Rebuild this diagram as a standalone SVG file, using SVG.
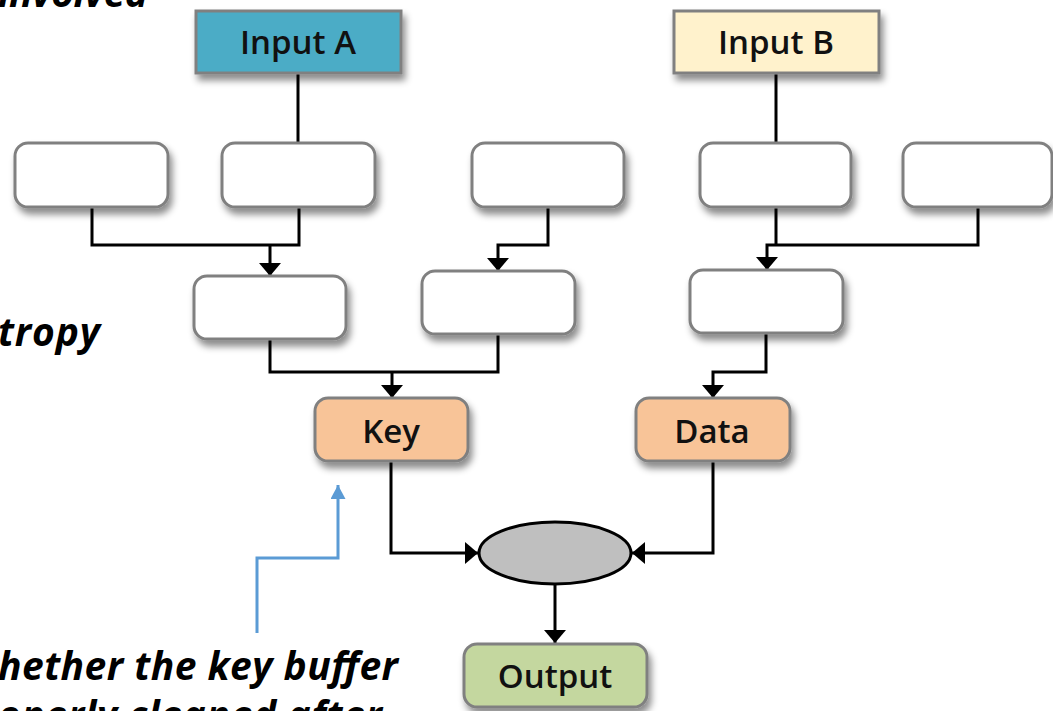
<svg xmlns="http://www.w3.org/2000/svg" width="1053" height="711" viewBox="0 0 1053 711">
<defs>
<filter id="sh" x="-20%" y="-20%" width="150%" height="170%">
<feDropShadow dx="3" dy="6" stdDeviation="3.5" flood-color="#000" flood-opacity="0.45"/>
</filter>
<marker id="ah" markerUnits="userSpaceOnUse" markerWidth="13" markerHeight="22" viewBox="0 0 13 22" refX="13" refY="11" orient="auto">
<path d="M0,0 L13,11 L0,22 z" fill="#000"/>
</marker>
<marker id="ahb" markerUnits="userSpaceOnUse" markerWidth="14" markerHeight="15" viewBox="0 0 14 15" refX="14" refY="7.5" orient="auto">
<path d="M0,0 L14,7.5 L0,15 z" fill="#5B9BD5"/>
</marker>
</defs>
<style>
.box{fill:#fff;stroke:#808080;stroke-width:3;filter:url(#sh)}
.lbl{font-family:"Open Sans","Liberation Sans",sans-serif;font-weight:600;font-size:33px;fill:#111;text-anchor:middle}
.note{font-family:"Open Sans","Liberation Sans",sans-serif;font-weight:700;font-style:italic;font-size:39px;fill:#000}
.c{fill:none;stroke:#000;stroke-width:3}
.ca{fill:none;stroke:#000;stroke-width:3;marker-end:url(#ah)}
</style>
<g id="notes">
<text class="note" x="-2" y="7" textLength="150" lengthAdjust="spacing">involved</text>
<text class="note" x="-2" y="346" textLength="102" lengthAdjust="spacing">tropy</text>
<text class="note" x="-2" y="680" textLength="400" lengthAdjust="spacing">hether the key buffer</text>
<text class="note" x="-2" y="729" textLength="384" lengthAdjust="spacing">operly cleaned after</text>
</g>
<g id="connectors">
<path class="c" d="M298,73 V143"/>
<path class="c" d="M776,73 V143"/>
<path class="c" d="M92,207 V245 H299 V207"/>
<path class="ca" d="M270,245 V276"/>
<path class="ca" d="M548,207 V245 H498 V271"/>
<path class="c" d="M776,207 V245"/>
<path class="ca" d="M978,207 V245 H767 V270"/>
<path class="c" d="M270,339 V372 H498 V334"/>
<path class="ca" d="M392,372 V398"/>
<path class="ca" d="M766,333 V372 H713 V398"/>
<path class="ca" d="M391,461 V553 H478"/>
<path class="ca" d="M713,461 V553 H632"/>
<path class="ca" d="M555,584 V643"/>
<path d="M257,633 V558 H338 V485" fill="none" stroke="#5B9BD5" stroke-width="3" marker-end="url(#ahb)"/>
</g>
<g id="inputA"><rect x="196" y="11" width="205" height="62" fill="#4BACC6" stroke="#808080" stroke-width="3" filter="url(#sh)"/><text class="lbl" x="298" y="54">Input A</text></g>
<g id="inputB"><rect x="674" y="11" width="205" height="62" fill="#FFF2CC" stroke="#808080" stroke-width="3" filter="url(#sh)"/><text class="lbl" x="776" y="54">Input B</text></g>
<g id="n1"><rect class="box" x="15" y="143" width="153" height="64" rx="13"/></g>
<g id="n2"><rect class="box" x="222" y="143" width="153" height="64" rx="13"/></g>
<g id="n3"><rect class="box" x="472" y="143" width="152" height="64" rx="13"/></g>
<g id="n4"><rect class="box" x="700" y="143" width="151" height="64" rx="13"/></g>
<g id="n5"><rect class="box" x="903" y="143" width="149" height="64" rx="13"/></g>
<g id="n6"><rect class="box" x="194" y="276" width="152" height="63" rx="13"/></g>
<g id="n7"><rect class="box" x="422" y="271" width="153" height="63" rx="13"/></g>
<g id="n8"><rect class="box" x="690" y="270" width="153" height="63" rx="13"/></g>
<g id="key"><rect class="box" x="315" y="398" width="153" height="63" rx="13" style="fill:#F8C498"/><text class="lbl" x="391" y="443">Key</text></g>
<g id="data"><rect class="box" x="636" y="398" width="154" height="63" rx="13" style="fill:#F8C498"/><text class="lbl" x="712" y="443">Data</text></g>
<g id="join"><ellipse cx="555" cy="553" rx="76" ry="31" fill="#BFBFBF" stroke="#000" stroke-width="3"/></g>
<g id="output"><rect class="box" x="464" y="644" width="183" height="63" rx="13" style="fill:#C4D79F"/><text class="lbl" x="555" y="688">Output</text></g>
</svg>
